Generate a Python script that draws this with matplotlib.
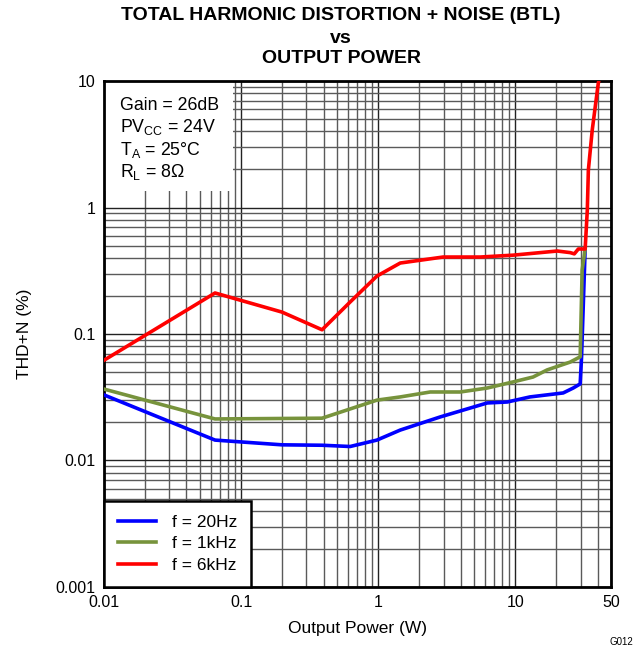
import matplotlib
matplotlib.use("Agg")
import matplotlib.pyplot as plt
from matplotlib.ticker import LogLocator, NullFormatter, FixedLocator, FixedFormatter
from matplotlib.patches import Rectangle

plt.rcParams['font.family'] = ['Liberation Sans', 'DejaVu Sans']

# Data (Output power W, THD+N %)
p_20hz = [0.01, 0.0646, 0.199, 0.39, 0.625, 0.98, 1.45, 2.84, 6.25, 8.75, 12.8, 22.4, 26.5, 29.8, 30.5, 32.4]
thd_20hz = [0.033, 0.0145, 0.0133, 0.0132, 0.0129, 0.0145, 0.0174, 0.0221, 0.0285, 0.029, 0.0318, 0.0342, 0.0374, 0.0403, 0.066, 0.47]

p_1khz = [0.01, 0.0646, 0.39, 0.98, 1.45, 2.4, 3.97, 6.25, 9.66, 13.5, 17.1, 25.2, 29.8, 30.8, 32.4]
thd_1khz = [0.0367, 0.0213, 0.0216, 0.030, 0.0318, 0.0348, 0.0348, 0.0374, 0.0418, 0.0457, 0.052, 0.060, 0.066, 0.32, 0.47]

p_6khz = [0.01, 0.0646, 0.199, 0.39, 0.625, 0.98, 1.45, 2.98, 5.56, 9.66, 20.3, 25.2, 27.0, 28.9, 32.4, 33.6, 34.2, 36.5, 40.4, 41.5]
thd_6khz = [0.062, 0.211, 0.149, 0.108, 0.179, 0.287, 0.364, 0.406, 0.406, 0.42, 0.453, 0.44, 0.43, 0.47, 0.47, 0.955, 1.98, 4.1, 9.6, 11.0]

x_ticks = [0.01, 0.1, 1, 10, 50]
x_labels = ["0.01", "0.1", "1", "10", "50"]
y_ticks = [0.001, 0.01, 0.1, 1, 10]
y_labels = ["0.001", "0.01", "0.1", "1", "10"]

fig = plt.figure(figsize=(6.43, 6.56), dpi=100)
ax = fig.add_axes([0.1617, 0.1052, 0.7885, 0.7713])
ax.set_xscale('log')
ax.set_yscale('log')
ax.set_xlim(0.01, 50)
ax.set_ylim(0.001, 10)

ax.xaxis.set_major_locator(FixedLocator(x_ticks))
ax.xaxis.set_major_formatter(FixedFormatter(x_labels))
ax.yaxis.set_major_locator(FixedLocator(y_ticks))
ax.yaxis.set_major_formatter(FixedFormatter(y_labels))
ax.xaxis.set_minor_locator(LogLocator(base=10, subs=range(2, 10), numticks=20))
ax.yaxis.set_minor_locator(LogLocator(base=10, subs=range(2, 10), numticks=20))
ax.xaxis.set_minor_formatter(NullFormatter())
ax.yaxis.set_minor_formatter(NullFormatter())
ax.tick_params(which='both', length=0, labelsize=11.5, pad=6, colors='black')

ax.set_axisbelow(True)
ax.grid(which='major', color='#222222', linewidth=1.0)
ax.grid(which='minor', color='#5a5a5a', linewidth=1.0)

for s in ax.spines.values():
    s.set_linewidth(2)
    s.set_color('black')

# white annotation box
ax.add_patch(Rectangle((0, 0.783), 0.254, 0.217, transform=ax.transAxes,
                       facecolor='white', edgecolor='none', zorder=1))

ax.plot(p_20hz, thd_20hz, color='#0000ff', lw=2.6, label='f = 20Hz', zorder=3)
ax.plot(p_1khz, thd_1khz, color='#77933c', lw=2.6, label='f = 1kHz', zorder=3)
ax.plot(p_6khz, thd_6khz, color='#ff0000', lw=2.6, label='f = 6kHz', zorder=4)

ann = ["Gain = 26dB", r"PV$_{\mathregular{CC}}$ = 24V", r"T$_{\mathregular{A}}$ = 25°C", r"R$_{\mathregular{L}}$ = 8Ω"]
for i, t in enumerate(ann):
    ax.text(0.031, 0.9427 - i * 0.0441, t, transform=ax.transAxes, fontsize=12.8,
            va='baseline', ha='left', zorder=5)

leg = ax.legend(loc='lower left', borderaxespad=0, fontsize=12.5, fancybox=False,
                framealpha=1, edgecolor='black', handlelength=2.2, handletextpad=0.9,
                borderpad=0.8, labelspacing=0.38)
leg.get_frame().set_linewidth(1.8)
leg.set_zorder(6)

ax.set_xlabel("Output Power (W)", fontsize=12.5, labelpad=8)
fig.text(24 / 643, 1 - 334 / 656, "THD+N (%)", rotation=90, ha='center', va='center',
         fontsize=12.5)

tx = 341 / 643
fig.text(tx, 1 - 20 / 656, "TOTAL HARMONIC DISTORTION + NOISE (BTL)", ha='center', va='baseline',
         fontsize=14, fontweight='bold')
fig.text(tx, 1 - 43 / 656, "vs", ha='center', va='baseline', fontsize=14, fontweight='bold')
fig.text(tx, 1 - 63 / 656, "OUTPUT POWER", ha='center', va='baseline', fontsize=14, fontweight='bold')
fig.text(0.985, 0.013, "G012", ha='right', va='bottom', fontsize=7)

fig.savefig("out.png", dpi=100)
